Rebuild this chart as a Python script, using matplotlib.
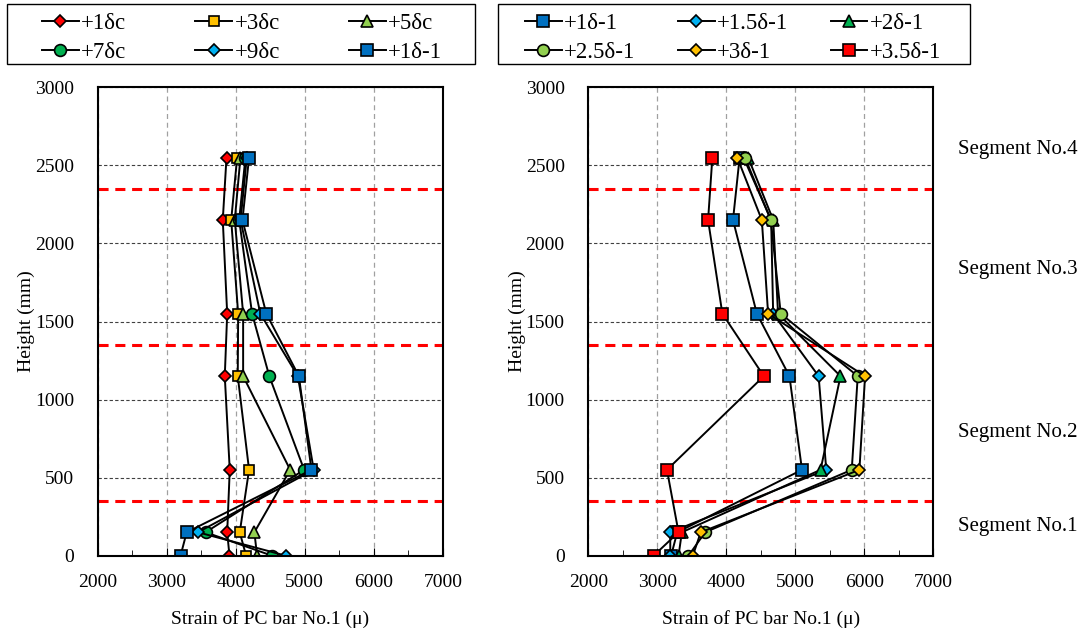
import matplotlib.pyplot as plt
from matplotlib.patches import Rectangle
from matplotlib.ticker import MultipleLocator

plt.rcParams["font.family"] = ["Liberation Serif", "DejaVu Serif"]
plt.rcParams["font.size"] = 14

heights = [0, 150, 550, 1150, 1550, 2150, 2550]

# left panel: cyclic loading steps
d1c = [3909, 3876, 3913, 3841, 3876, 3812, 3866]
d3c = [4150, 4058, 4193, 4029, 4035, 3934, 4020]
d5c = [4309, 4270, 4789, 4107, 4107, 3986, 4068]
d7c = [4525, 3563, 4991, 4486, 4237, 4050, 4140]
d9c = [4727, 3452, 5130, 4900, 4356, 4070, 4160]
d1_1 = [3200, 3289, 5097, 4915, 4443, 4097, 4193]

# right panel
d15_1 = [3188, 3188, 5449, 5338, 4679, 4650, 4250]
d2_1 = [3308, 3356, 5366, 5655, 4750, 4680, 4317]
d25_1 = [3452, 3693, 5818, 5905, 4789, 4645, 4270]
d3_1 = [3515, 3630, 5929, 6011, 4606, 4515, 4159]
d35_1 = [2947, 3308, 3140, 4544, 3943, 3736, 3798]

segment_bounds = [350, 1350, 2350]
segment_labels = ["Segment No.1", "Segment No.2", "Segment No.3", "Segment No.4"]
segment_label_y = [190, 790, 1830, 2600]

# (label, values, marker, colour, size)
LEFT = [
    ("+1δc", d1c, "D", "#FF0000", 6.5),
    ("+3δc", d3c, "s", "#FFC000", 7.5),
    ("+5δc", d5c, "^", "#92D050", 9),
    ("+7δc", d7c, "o", "#00B050", 8.5),
    ("+9δc", d9c, "D", "#00B0F0", 6.5),
    ("+1δ-1", d1_1, "s", "#0070C0", 9),
]
RIGHT = [
    ("+1δ-1", d1_1, "s", "#0070C0", 8.5),
    ("+1.5δ-1", d15_1, "D", "#00B0F0", 6.5),
    ("+2δ-1", d2_1, "^", "#00B050", 9),
    ("+2.5δ-1", d25_1, "o", "#92D050", 8.5),
    ("+3δ-1", d3_1, "D", "#FFC000", 6.5),
    ("+3.5δ-1", d35_1, "s", "#FF0000", 8.5),
]

W, H = 1086, 635


def draw_panel(ax, series):
    handles = []
    for label, vals, mk, col, ms in series:
        h, = ax.plot(vals, heights, color="black", lw=1.4, marker=mk, ms=ms,
                     mfc=col, mec="black", mew=1.2, label=label)
        handles.append(h)
    for yb in segment_bounds:
        ax.axhline(yb, color="#FF0000", lw=2.2, dashes=[3.3, 2.2], zorder=1)
    ax.set_xlim(2000, 7000)
    ax.set_ylim(0, 3000)
    ax.xaxis.set_major_locator(MultipleLocator(1000))
    ax.xaxis.set_minor_locator(MultipleLocator(500))
    ax.yaxis.set_major_locator(MultipleLocator(500))
    ax.grid(axis="x", which="major", color="#A0A0A0", lw=0.9, linestyle=(0, (4, 3)), zorder=0)
    ax.grid(axis="y", which="major", color="#404040", lw=0.8, linestyle=(0, (3, 2)), zorder=0)
    ax.tick_params(axis="x", which="both", direction="in", top=False, pad=13)
    ax.tick_params(axis="x", which="major", length=6)
    ax.tick_params(axis="x", which="minor", length=4)
    ax.tick_params(axis="y", length=0, pad=17)
    for sp in ax.spines.values():
        sp.set_linewidth(1.5)
    ax.set_xlabel("Strain of PC bar No.1 (μ)", labelpad=14)
    ax.set_ylabel("Height (mm)", labelpad=0)
    ax.set_axisbelow(True)
    return handles


def row_major(items, ncol):
    nrow = (len(items) + ncol - 1) // ncol
    return [items[r * ncol + c] for c in range(ncol) for r in range(nrow)]


fig = plt.figure(figsize=(W / 100, H / 100), dpi=100)
ax1 = fig.add_axes([0.0900, 0.1249, 0.3177, 0.7376])
ax2 = fig.add_axes([0.5417, 0.1249, 0.3177, 0.7376])

h1 = draw_panel(ax1, LEFT)
h2 = draw_panel(ax2, RIGHT)

for text, yv in zip(segment_labels, segment_label_y):
    ax2.text(1.072, yv, text, transform=ax2.get_yaxis_transform(),
             ha="left", va="center", fontsize=15)

# legend boxes: (handles, frame x0, frame x1, entries x0, entries x1) in pixels
legend_boxes = [(h1, 7.3, 475, 42, 442), (h2, 498.3, 970, 525, 941)]
for handles, fx0, fx1, ex0, ex1 in legend_boxes:
    fig.patches.append(Rectangle((fx0 / W, 1 - 64 / H), (fx1 - fx0) / W, 60 / H,
                                 transform=fig.transFigure, fill=False,
                                 edgecolor="black", lw=1.0))
    hs = row_major(handles, 3)
    fig.legend(hs, [h.get_label() for h in hs], ncol=3, mode="expand",
               loc="upper left", bbox_to_anchor=(ex0 / W, 1 - 13 / H, (ex1 - ex0) / W, 0.0),
               frameon=False, handlelength=1.6, handletextpad=0.1,
               borderaxespad=0.0, borderpad=0.0, labelspacing=0.35, fontsize=16.5)

fig.savefig("out.png", dpi=100)
